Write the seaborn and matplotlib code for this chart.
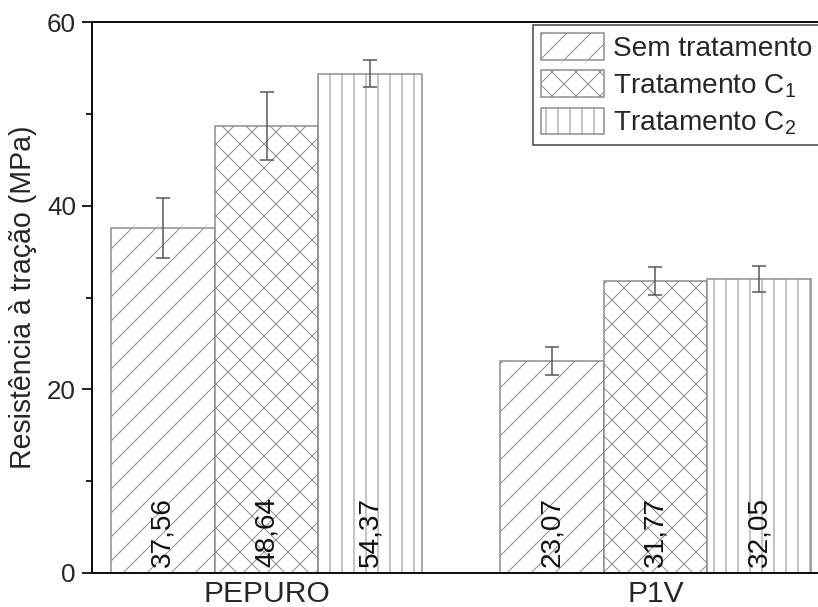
import matplotlib
matplotlib.use("Agg")
import matplotlib.pyplot as plt
import seaborn as sns
import pandas as pd

# ---- data ----
materials = ["PEPURO", "P1V"]
treatments = ["Sem tratamento", "Tratamento C$_1$", "Tratamento C$_2$"]
values_sem = [37.56, 23.07]
values_c1 = [48.64, 31.77]
values_c2 = [54.37, 32.05]
err_sem = [3.3, 1.55]
err_c1 = [3.7, 1.5]
err_c2 = [1.45, 1.4]
y_ticks = [0, 20, 40, 60]
y_minor = [10, 30, 50]

series_vals = [values_sem, values_c1, values_c2]
series_errs = [err_sem, err_c1, err_c2]

rows = []
for t, vals in zip(treatments, series_vals):
    for m, v in zip(materials, vals):
        rows.append({"material": m, "treatment": t, "value": v})
df = pd.DataFrame(rows)

sns.set_style("ticks")
plt.rcParams["font.family"] = ["Liberation Sans", "DejaVu Sans"]
plt.rcParams["mathtext.fontset"] = "custom"
plt.rcParams["mathtext.rm"] = "Liberation Sans"
plt.rcParams["mathtext.it"] = "Liberation Sans"
plt.rcParams["mathtext.default"] = "regular"
plt.rcParams["hatch.linewidth"] = 1.0

DPI = 72
fig = plt.figure(figsize=(818 / DPI, 607 / DPI), dpi=DPI)
ax = fig.add_axes([92 / 818, 1 - 573 / 607, (830 - 92) / 818, (573 - 22) / 607])

sns.barplot(data=df, x="material", y="value", hue="treatment",
            order=materials, hue_order=treatments,
            palette=["white"] * 3, saturation=1,
            edgecolor="#8c8c8c", linewidth=1.5,
            errorbar=None, legend=False, ax=ax)

bar_containers = list(ax.containers)
hatches = ["/", "x", "|"]
for cont, h, errs, vals in zip(bar_containers, hatches, series_errs, series_vals):
    xs, ys = [], []
    for p in cont:
        p.set_hatch(h)
        xs.append(p.get_x() + p.get_width() / 2)
        ys.append(p.get_height())
    ax.errorbar(xs, ys, yerr=errs, fmt="none", ecolor="#555555",
                elinewidth=1.5, capsize=7, capthick=1.5, zorder=5)
    for x, v in zip(xs, vals):
        ax.text(x, 0.6, f"{v:.2f}".replace(".", ","), rotation=90,
                ha="center", va="bottom", fontsize=28, color="#111111", zorder=6)

ax.set_ylim(0, 60)
ax.set_xlim(-0.449, 1.449)
ax.set_yticks(y_ticks)
ax.set_yticks(y_minor, minor=True)
ax.tick_params(axis="y", which="major", length=10, width=2, labelsize=26, pad=6, direction="out")
ax.tick_params(axis="y", which="minor", length=6, width=2, direction="out")
ax.tick_params(axis="x", length=0, labelsize=30, pad=7)
ax.set_xlabel("")
ax.set_ylabel("Resistência à tração (MPa)", fontsize=28.5, labelpad=10)
for s in ["left", "bottom", "top"]:
    ax.spines[s].set_linewidth(2)
    ax.spines[s].set_color("#111111")
    ax.spines[s].set_visible(True)
ax.spines["right"].set_visible(False)

leg = fig.legend(handles=bar_containers, labels=treatments, loc="upper left",
                 bbox_to_anchor=(533 / 818, 1 - 25 / 607), frameon=True,
                 fancybox=False, edgecolor="#111111", fontsize=28,
                 handlelength=2.25, handleheight=1.1, labelspacing=0.28,
                 handletextpad=0.3, borderpad=0.3, borderaxespad=0)
leg.get_frame().set_linewidth(1.5)

fig.savefig("out.png", dpi=DPI)
